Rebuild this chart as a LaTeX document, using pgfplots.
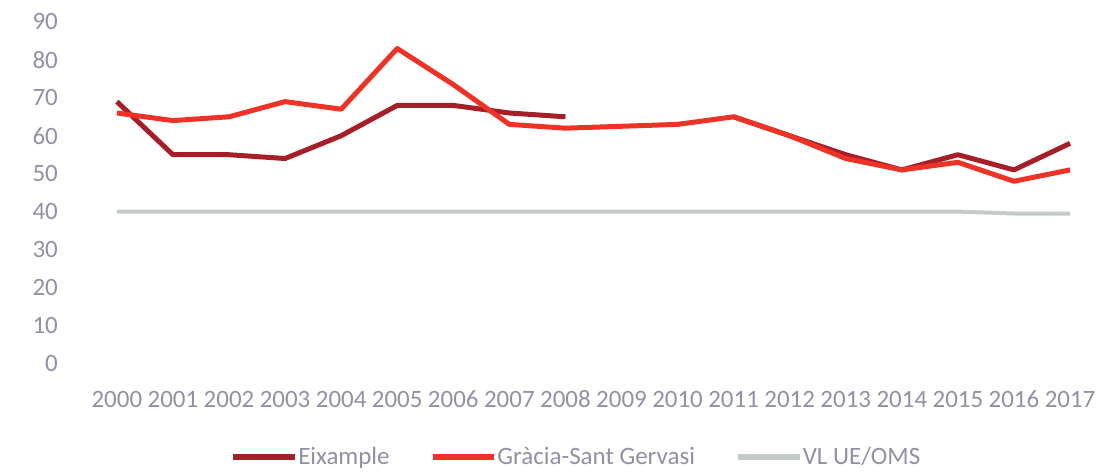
\documentclass[border=0pt]{standalone}
\usepackage{pgfplots}
\pgfplotsset{compat=1.18}
\usepackage{fontspec}
\setmainfont{Carlito}
\usetikzlibrary{calc}
\definecolor{eix}{RGB}{165,30,40}
\definecolor{gra}{RGB}{238,50,38}
\definecolor{vl}{RGB}{196,202,200}
\definecolor{lbl}{RGB}{145,145,165}
\begin{document}
\begin{tikzpicture}
\begin{axis}[name=ax,
  scale only axis, width=505.5pt, height=171pt,
  xmin=-0.5, xmax=17.5, ymin=0, ymax=90,
  axis line style={draw=none}, tick style={draw=none},
  xtick={0,...,17},
  xticklabels={2000,2001,2002,2003,2004,2005,2006,2007,2008,2009,2010,2011,2012,2013,2014,2015,2016,2017},
  ytick={0,10,...,90},
  /pgf/number format/assume math mode=true,
  ticklabel style={font=\fontsize{12.5}{13}\selectfont, text=lbl},
  yticklabel style={xshift=-12pt},
  xticklabel style={yshift=-8pt, anchor=base, yshift=-14pt},
  unbounded coords=jump,
  legend style={at={(0.484,-0.275)}, anchor=center, draw=none, legend columns=3,
    font=\fontsize{12.5}{13}\selectfont, text=lbl,
    /tikz/every even column/.append style={column sep=18pt},
    /tikz/every odd column/.append style={column sep=-2pt}},
  legend image code/.code={\draw[#1, line width=3pt] (0pt,0pt) -- (31pt,0pt);},
]
\addplot[eix, line width=2.5pt, line join=round] coordinates {
(0,69) (1,55) (2,55) (3,54) (4,60) (5,68) (6,68) (7,66) (8,65) (9,nan) (10,nan)
(11,65) (12,60) (13,55) (14,51) (15,55) (16,51) (17,58)};
\addlegendentry{Eixample}
\addplot[gra, line width=2.5pt, line join=round] coordinates {
(0,66) (1,64) (2,65) (3,69) (4,67) (5,83) (6,73.5) (7,63) (8,62) (9,62.5) (10,63)
(11,65) (12,60) (13,54) (14,51) (15,53) (16,48) (17,51)};
\addlegendentry{Gràcia-Sant Gervasi}
\addplot[vl, line width=2pt] coordinates {
(0,40) (1,40) (2,40) (3,40) (4,40) (5,40) (6,40) (7,40) (8,40) (9,40) (10,40)
(11,40) (12,40) (13,40) (14,40) (15,40) (16,39.5) (17,39.5)};
\addlegendentry{VL UE/OMS}
\end{axis}
\path[use as bounding box] ($(ax.south west)+(-44.5pt,-54pt)$) rectangle ($(ax.north east)+(1pt,11pt)$);
\end{tikzpicture}
\end{document}
